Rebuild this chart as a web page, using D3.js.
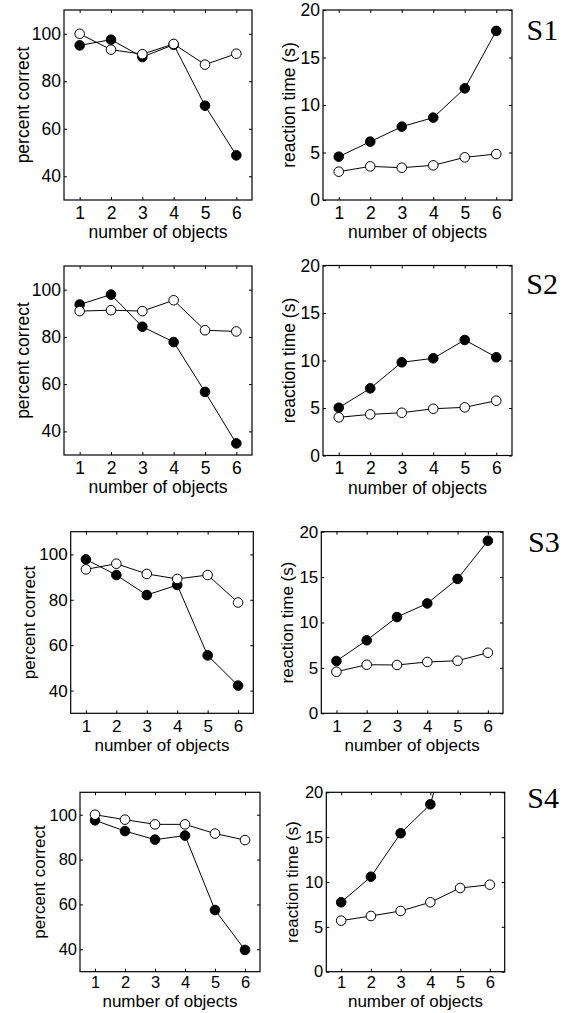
<!DOCTYPE html>
<html>
<head>
<meta charset="utf-8">
<script src="https://cdn.jsdelivr.net/npm/d3@7"></script>
<style>
  html, body { margin: 0; padding: 0; background: #fff; }
  svg { display: block; }
  .axis text { font-family: "Liberation Sans", Arial, sans-serif; fill: #000; }
  .axis line { stroke: #000; stroke-width: 1; }
  .axis path { display: none; }
</style>
</head>
<body>
<svg id="chart" width="566" height="1013"></svg>
<script>
// ---------------- data ----------------
const objects = [1, 2, 3, 4, 5, 6];
const subjects = ["S1", "S2", "S3", "S4"];
const xTicks = [1, 2, 3, 4, 5, 6];
const correctTicks = [40, 60, 80, 100];
const rtTicks = [0, 5, 10, 15, 20];
const xLabel = "number of objects";
const correctLabel = "percent correct";
const rtLabel = "reaction time (s)";

// percent correct, filled circles (one row per subject)
const correctFilled = [
  [95.1, 97.5, 90.2, 95.4, 69.7, 48.8],
  [93.7, 97.9, 84.3, 77.8, 56.7, 34.9],
  [97.8, 90.9, 82.1, 86.5, 55.5, 42.2],
  [97.5, 92.7, 88.9, 90.7, 57.5, 39.7]
];
// percent correct, open circles
const correctOpen = [
  [100, 93.3, 91.4, 95.7, 87.0, 91.6],
  [90.9, 91.3, 90.9, 95.5, 82.8, 82.3],
  [93.4, 95.9, 91.4, 89.2, 90.9, 78.8],
  [100, 97.8, 95.7, 95.7, 91.6, 88.7]
];
// reaction time (s), filled circles (S4 runs off the top of the axes)
const rtFilled = [
  [4.56, 6.14, 7.72, 8.67, 11.75, 17.8],
  [5.03, 7.07, 9.81, 10.23, 12.16, 10.34],
  [5.76, 8.04, 10.6, 12.1, 14.8, 19.0],
  [7.74, 10.59, 15.43, 18.66, 30.4, null]
];
// reaction time (s), open circles
const rtOpen = [
  [2.98, 3.54, 3.40, 3.65, 4.49, 4.84],
  [4.02, 4.33, 4.50, 4.92, 5.07, 5.77],
  [4.58, 5.35, 5.32, 5.65, 5.79, 6.67],
  [5.69, 6.21, 6.77, 7.74, 9.33, 9.70]
];

// ---------------- layout (pixel frames of each axes box) ----------------
const leftFrames = [
  {x0: 64,   x1: 252,   y0: 10,    y1: 200},
  {x0: 64,   x1: 252,   y0: 266,   y1: 455},
  {x0: 70.7, x1: 253.3, y0: 531.7, y1: 713.3},
  {x0: 80,   x1: 260,   y0: 792.3, y1: 971.7}
];
const rightFrames = [
  {x0: 323,   x1: 512,   y0: 10,    y1: 200},
  {x0: 323,   x1: 512,   y0: 265.5, y1: 455.5},
  {x0: 321.3, x1: 503,   y0: 531.7, y1: 713.3},
  {x0: 326.3, x1: 504.7, y0: 792.3, y1: 971.7}
];
const subjectPos = [
  {x: 526.5, y: 39.5},
  {x: 526.3, y: 294.3},
  {x: 528,   y: 552.3},
  {x: 527.3, y: 808.3}
];
const tickFont = [17.5, 17.5, 17, 16.5];
const labelFont = [17.5, 17.5, 17, 17];
const markerR = 4.8;

const svg = d3.select("#chart");
let clipId = 0;

function drawPanel(frame, row, yDomain, yTicks, yLabel, seriesA, seriesB, labelOffset) {
  const g = svg.append("g");
  const w = frame.x1 - frame.x0, h = frame.y1 - frame.y0;
  const x = d3.scaleLinear().domain([0.5, 6.5]).range([frame.x0, frame.x1]);
  const y = d3.scaleLinear().domain(yDomain).range([frame.y1, frame.y0]);
  const fs = tickFont[row], lf = labelFont[row];

  const id = "clip" + (clipId++);
  g.append("clipPath").attr("id", id)
    .append("rect").attr("x", frame.x0).attr("y", frame.y0).attr("width", w).attr("height", h);

  // axes with inward ticks on all sides
  const tickLen = 3;
  const left = d3.axisLeft(y).tickValues(yTicks).tickFormat(d3.format("d"))
    .tickSizeInner(-tickLen).tickSizeOuter(0).tickPadding(3);
  const bottom = d3.axisBottom(x).tickValues(xTicks).tickFormat(d3.format("d"))
    .tickSizeInner(-tickLen).tickSizeOuter(0).tickPadding(row === 3 ? 4.5 : 6.5);
  const right = d3.axisRight(y).tickValues(yTicks).tickSizeInner(-tickLen).tickSizeOuter(0).tickFormat("");
  const top = d3.axisTop(x).tickValues(xTicks).tickSizeInner(-tickLen).tickSizeOuter(0).tickFormat("");

  g.append("g").attr("class", "axis").attr("transform", `translate(${frame.x0},0)`).call(left)
    .selectAll("text").style("font-size", fs + "px");
  g.append("g").attr("class", "axis").attr("transform", `translate(0,${frame.y1})`).call(bottom)
    .selectAll("text").style("font-size", fs + "px");
  g.append("g").attr("class", "axis").attr("transform", `translate(${frame.x1},0)`).call(right);
  g.append("g").attr("class", "axis").attr("transform", `translate(0,${frame.y0})`).call(top);

  // frame
  g.append("rect").attr("x", frame.x0).attr("y", frame.y0).attr("width", w).attr("height", h)
    .attr("fill", "none").attr("stroke", "#000").attr("stroke-width", 1.2);

  // axis labels
  g.append("text")
    .attr("x", (frame.x0 + frame.x1) / 2).attr("y", frame.y1 + (row === 3 ? 35 : 38))
    .attr("text-anchor", "middle")
    .style("font-family", "Liberation Sans, Arial, sans-serif").style("font-size", lf + "px")
    .text(xLabel);
  g.append("text")
    .attr("transform", `translate(${frame.x0 - labelOffset},${(frame.y0 + frame.y1) / 2}) rotate(-90)`)
    .attr("text-anchor", "middle")
    .style("font-family", "Liberation Sans, Arial, sans-serif").style("font-size", lf + "px")
    .text(yLabel);

  const line = d3.line().defined(d => d[1] != null).x(d => x(d[0])).y(d => y(d[1]));
  const plotArea = g.append("g").attr("clip-path", `url(#${id})`);

  function series(vals, fill) {
    const pts = objects.map((o, i) => [o, vals[i]]);
    plotArea.append("path").attr("d", line(pts))
      .attr("fill", "none").attr("stroke", "#000").attr("stroke-width", 1);
    plotArea.selectAll(null).data(pts.filter(p => p[1] != null)).enter().append("circle")
      .attr("cx", d => x(d[0])).attr("cy", d => y(d[1])).attr("r", markerR)
      .attr("fill", fill).attr("stroke", "#000").attr("stroke-width", 1);
  }
  series(seriesA, "#000");
  series(seriesB, "#fff");
}

subjects.forEach((s, i) => {
  drawPanel(leftFrames[i], i, [30, 110], correctTicks, correctLabel, correctFilled[i], correctOpen[i], 35.5);
  drawPanel(rightFrames[i], i, [0, 20], rtTicks, rtLabel, rtFilled[i], rtOpen[i], 28);
  svg.append("text")
    .attr("x", subjectPos[i].x).attr("y", subjectPos[i].y)
    .style("font-family", "Liberation Serif, Times New Roman, serif").style("font-size", "30px")
    .text(s);
});
</script>
</body>
</html>
